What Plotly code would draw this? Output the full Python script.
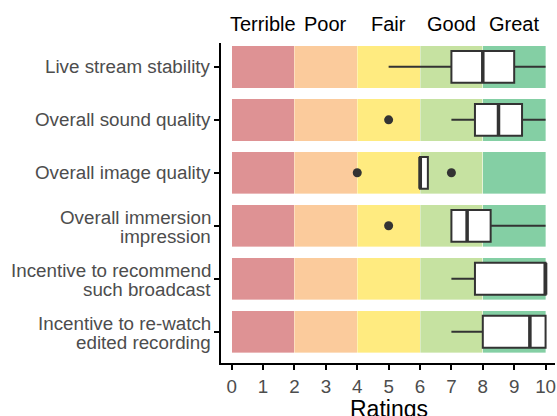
import plotly.graph_objects as go

categories = [
    "Live stream stability",
    "Overall sound quality",
    "Overall image quality",
    "Overall immersion impression",
    "Incentive to recommend such broadcast",
    "Incentive to re-watch edited recording",
]
label_lines = [
    ["Live stream stability"],
    ["Overall sound quality"],
    ["Overall image quality"],
    ["Overall immersion", "impression"],
    ["Incentive to recommend", "such broadcast"],
    ["Incentive to re-watch", "edited recording"],
]
lower_whisker = [5, 7, 6, 7, 7, 7]
q1 = [7, 7.75, 6, 7, 7.75, 8]
median = [8, 8.5, 6, 7.5, 10, 9.5]
q3 = [9, 9.25, 6.25, 8.25, 10, 10]
upper_whisker = [10, 10, 6.25, 10, 10, 10]

outlier_cat = ["Overall sound quality", "Overall image quality", "Overall image quality",
               "Overall immersion impression"]
outlier_val = [5, 4, 7, 5]

band_labels = ["Terrible", "Poor", "Fair", "Good", "Great"]
band_width = [2, 2, 2, 2, 2]
band_centers = [1, 3, 5, 7, 9]
band_colors = ["#DE9294", "#FBCB9C", "#FFEB80", "#C6E2A1", "#84CFA4"]

x_ticks = list(range(0, 11))
x_title = "Ratings"

fig = go.Figure()

for lab, w, col in zip(band_labels, band_width, band_colors):
    fig.add_trace(go.Bar(
        x=[w] * len(categories), y=categories, orientation="h",
        marker=dict(color=col, line=dict(color="rgba(255,255,255,0.6)", width=0.6)),
        width=0.8, name=lab, showlegend=False, hoverinfo="skip",
    ))

fig.add_trace(go.Box(
    y=categories, q1=q1, median=median, q3=q3,
    lowerfence=lower_whisker, upperfence=upper_whisker,
    orientation="h", fillcolor="white",
    line=dict(color="#333333", width=2), whiskerwidth=0,
    width=0.6, boxpoints=False, showlegend=False,
))

fig.add_trace(go.Scatter(
    x=outlier_val, y=outlier_cat, mode="markers",
    marker=dict(color="#333333", size=9), showlegend=False,
))

for i, m in enumerate(median):
    fig.add_shape(type="line", xref="x", yref="y", x0=m, x1=m,
                  y0=i - 0.3, y1=i + 0.3,
                  line=dict(color="#333333", width=3.5))

for lab, c in zip(band_labels, band_centers):
    fig.add_annotation(x=c, y=1.058, xref="x", yref="paper", text=lab,
                       showarrow=False, yanchor="middle",
                       font=dict(size=20, color="black"))

# y-axis category labels (ggplot-like tight line height)
for cat, lines in zip(categories, label_lines):
    shifts = [0] if len(lines) == 1 else [8.5, -11]
    for txt, ys in zip(lines, shifts):
        fig.add_annotation(x=0, xref="paper", y=cat, yref="y", text=txt,
                           showarrow=False, xanchor="right", yanchor="middle",
                           xshift=-8, yshift=ys,
                           font=dict(size=18.8, color="#4D4D4D"))

# x-axis title
fig.add_annotation(x=5, xref="x", y=0, yref="paper", text=x_title,
                   showarrow=False, xanchor="center", yanchor="top",
                   yshift=-31, font=dict(size=23, color="black"))

fig.update_layout(
    width=557, height=416,
    margin=dict(l=221, r=2, t=43, b=53),
    barmode="stack", boxmode="overlay",
    plot_bgcolor="white", paper_bgcolor="white",
    font=dict(family="Arial, Liberation Sans, sans-serif", size=18.8, color="#4D4D4D"),
)
fig.update_xaxes(
    range=[-0.34, 10.3], tickvals=x_ticks, ticktext=[str(t) for t in x_ticks],
    showgrid=False, zeroline=False, showline=True, linecolor="black", linewidth=2,
    ticks="outside", ticklen=5, tickwidth=1.5, tickcolor="black",
    tickfont=dict(size=18.8, color="#4D4D4D"),
    automargin=False,
)
fig.update_yaxes(
    type="category", categoryorder="array", categoryarray=categories,
    range=[5.59, -0.45], showgrid=False, zeroline=False,
    showline=True, linecolor="black", linewidth=2,
    ticks="outside", ticklen=5, tickwidth=1.5, tickcolor="black",
    showticklabels=False,
    automargin=False,
)

fig.write_html("out.html", config={"displayModeBar": False},
               post_script="document.body.style.margin='0';document.body.style.overflow='hidden';")
